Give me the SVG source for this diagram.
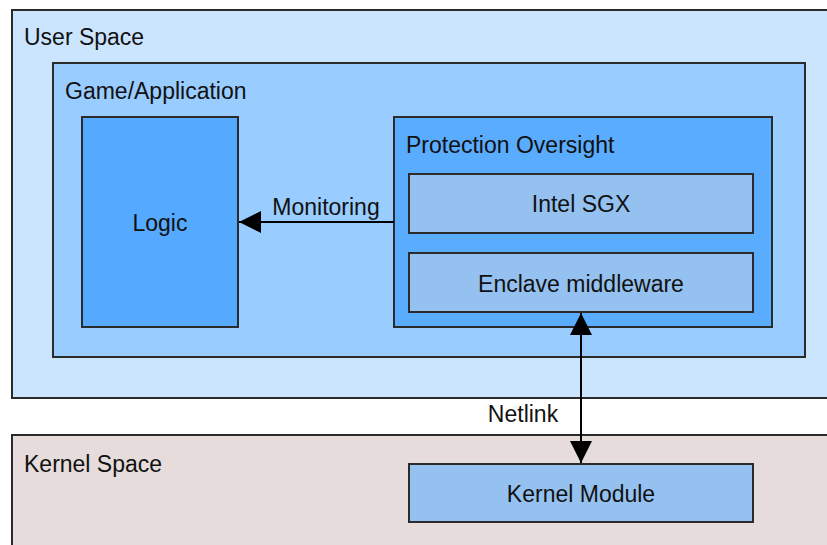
<svg xmlns="http://www.w3.org/2000/svg" width="827" height="545" viewBox="0 0 827 545">
  <defs>
    <style>
      .box { stroke: #2b2b2b; stroke-width: 2; }
      .lbl { font-family: "Liberation Sans", Arial, sans-serif; font-size: 23px; fill: #111; }
      .mid { text-anchor: middle; }
      .edge { stroke: #000; stroke-width: 2; fill: none; }
    </style>
    <marker id="arrowBig" viewBox="0 0 22 22" refX="22" refY="11" markerWidth="22" markerHeight="22" markerUnits="userSpaceOnUse" orient="auto-start-reverse">
      <path d="M0,0 L22,11 L0,22 z" fill="#000"/>
    </marker>
  </defs>

  <rect width="827" height="545" fill="#ffffff"/>

  <g id="user-space">
    <rect class="box" x="12" y="10" width="830" height="388" fill="#cce5ff"/>
    <text class="lbl" x="24" y="45">User Space</text>
  </g>

  <g id="kernel-space">
    <rect class="box" x="12" y="435" width="830" height="130" fill="#e5dcdb"/>
    <text class="lbl" x="24" y="472">Kernel Space</text>
  </g>

  <g id="game-application">
    <rect class="box" x="53" y="63" width="752" height="294" fill="#99ccff"/>
    <text class="lbl" x="65" y="99">Game/Application</text>
  </g>

  <g id="logic">
    <rect class="box" x="82" y="117" width="156" height="210" fill="#55aaff"/>
    <text class="lbl mid" x="160" y="231">Logic</text>
  </g>

  <g id="protection-oversight">
    <rect class="box" x="394" y="117" width="378" height="210" fill="#5aacff"/>
    <text class="lbl" x="406" y="153">Protection Oversight</text>
  </g>

  <g id="intel-sgx">
    <rect class="box" x="409" y="174" width="344" height="59" fill="#94c1f0"/>
    <text class="lbl mid" x="581" y="212">Intel SGX</text>
  </g>

  <g id="enclave-middleware">
    <rect class="box" x="409" y="253" width="344" height="59" fill="#94c1f0"/>
    <text class="lbl mid" x="581" y="292">Enclave middleware</text>
  </g>

  <g id="kernel-module">
    <rect class="box" x="409" y="464" width="344" height="58" fill="#94c1f0"/>
    <text class="lbl mid" x="581" y="502">Kernel Module</text>
  </g>

  <g id="connectors">
    <line class="edge" x1="394" y1="222" x2="239" y2="222" marker-end="url(#arrowBig)"/>
    <text class="lbl mid" x="326" y="215">Monitoring</text>
    <line class="edge" x1="581" y1="313" x2="581" y2="463" marker-start="url(#arrowBig)" marker-end="url(#arrowBig)"/>
    <text class="lbl mid" x="523" y="422">Netlink</text>
  </g>
</svg>
